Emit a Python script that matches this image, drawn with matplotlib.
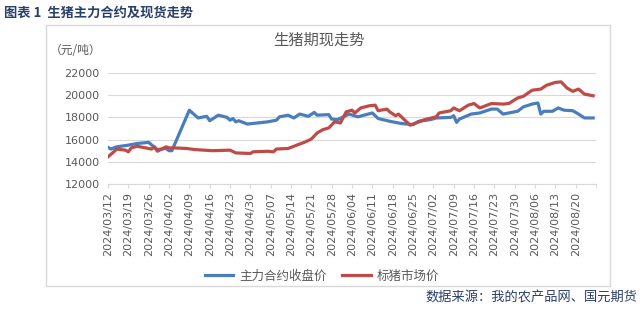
import pandas as pd
import matplotlib
matplotlib.use('Agg')
import matplotlib.pyplot as plt
import matplotlib.dates as mdates
from matplotlib.patches import Rectangle

plt.rcParams['font.family'] = ['DejaVu Sans', 'Noto Sans CJK SC']
plt.rcParams['axes.unicode_minus'] = False

# 主力合约收盘价 (元/吨)
futures_dates = [
    '2024-03-12', '2024-03-13', '2024-03-15', '2024-03-19', '2024-03-22', '2024-03-26',
    '2024-03-28', '2024-03-29', '2024-04-01', '2024-04-02', '2024-04-03', '2024-04-09',
    '2024-04-12', '2024-04-15', '2024-04-16', '2024-04-19', '2024-04-22', '2024-04-23',
    '2024-04-24', '2024-04-25', '2024-04-26', '2024-04-29', '2024-05-06', '2024-05-09',
    '2024-05-10', '2024-05-13', '2024-05-15', '2024-05-17', '2024-05-20', '2024-05-22',
    '2024-05-23', '2024-05-27', '2024-05-28', '2024-05-30', '2024-06-03', '2024-06-06',
    '2024-06-11', '2024-06-13', '2024-06-17', '2024-06-21', '2024-06-25', '2024-06-27',
    '2024-07-01', '2024-07-03', '2024-07-08', '2024-07-09', '2024-07-10', '2024-07-11',
    '2024-07-15', '2024-07-18', '2024-07-22', '2024-07-24', '2024-07-26', '2024-07-31',
    '2024-08-02', '2024-08-05', '2024-08-07', '2024-08-08', '2024-08-09', '2024-08-12',
    '2024-08-14', '2024-08-16', '2024-08-19', '2024-08-21', '2024-08-23', '2024-08-26',
]
futures_values = [
    15300, 15150, 15350, 15500, 15650, 15750,
    15300, 15100, 15200, 15000, 15000, 18650,
    17950, 18100, 17700, 18200, 18000, 17750,
    17900, 17600, 17700, 17400, 17600, 17750,
    18050, 18200, 17950, 18300, 18100, 18450,
    18200, 18250, 17850, 17800, 18300, 18050,
    18400, 17900, 17650, 17450, 17350, 17650,
    17800, 17950, 18000, 18150, 17550, 17850,
    18300, 18400, 18750, 18750, 18300, 18550,
    18950, 19200, 19300, 18300, 18550, 18550,
    18850, 18650, 18600, 18300, 17950, 17950,
]

# 标猪市场价 (元/吨)
spot_dates = [
    '2024-03-12', '2024-03-14', '2024-03-15', '2024-03-18', '2024-03-19', '2024-03-20',
    '2024-03-22', '2024-03-25', '2024-03-27', '2024-03-28', '2024-03-29', '2024-04-01',
    '2024-04-02', '2024-04-04', '2024-04-08', '2024-04-11', '2024-04-17', '2024-04-23',
    '2024-04-25', '2024-04-30', '2024-05-01', '2024-05-06', '2024-05-08', '2024-05-09',
    '2024-05-13', '2024-05-16', '2024-05-19', '2024-05-21', '2024-05-23', '2024-05-25',
    '2024-05-27', '2024-05-29', '2024-05-31', '2024-06-02', '2024-06-04', '2024-06-05',
    '2024-06-07', '2024-06-10', '2024-06-12', '2024-06-13', '2024-06-16', '2024-06-17',
    '2024-06-19', '2024-06-20', '2024-06-22', '2024-06-24', '2024-06-26', '2024-06-29',
    '2024-07-03', '2024-07-04', '2024-07-08', '2024-07-09', '2024-07-11', '2024-07-14',
    '2024-07-16', '2024-07-18', '2024-07-22', '2024-07-26', '2024-07-28', '2024-07-31',
    '2024-08-02', '2024-08-05', '2024-08-08', '2024-08-10', '2024-08-13', '2024-08-15',
    '2024-08-17', '2024-08-19', '2024-08-21', '2024-08-23', '2024-08-26',
]
spot_values = [
    14450, 14900, 15150, 15050, 14900, 15250,
    15400, 15250, 15150, 15350, 14950, 15350,
    15250, 15250, 15200, 15100, 15000, 15050,
    14800, 14750, 14900, 14950, 14900, 15150,
    15200, 15500, 15800, 16050, 16600, 16900,
    17050, 17600, 17500, 18500, 18650, 18400,
    18850, 19050, 19100, 18600, 18750, 18500,
    18150, 18300, 17800, 17300, 17500, 17800,
    18050, 18400, 18600, 18850, 18600, 19100,
    19250, 18850, 19250, 19200, 19250, 19750,
    19900, 20450, 20550, 20900, 21150, 21200,
    20650, 20350, 20550, 20100, 19950,
]

tick_dates = pd.date_range('2024-03-12', '2024-08-20', freq='7D')
y_ticks = [12000, 14000, 16000, 18000, 20000, 22000]

grey = '#595959'
line_grey = '#D9D9D9'

fig = plt.figure(figsize=(6.4, 3.09), dpi=100)
W, H = 640, 309

# 外框
fig.patches.append(Rectangle((46 / W, 1 - 286 / H), (610 - 46) / W, (286 - 25) / H,
                             transform=fig.transFigure, fill=False,
                             edgecolor=line_grey, linewidth=1.0))

ax = fig.add_axes([108 / W, 1 - 184 / H, (596 - 108) / W, (184 - 73) / H])

ax.plot(pd.to_datetime(futures_dates), futures_values, color='#4A7EBB', lw=2.3,
        label='主力合约收盘价', solid_joinstyle='round')
ax.plot(pd.to_datetime(spot_dates), spot_values, color='#BE4B48', lw=2.3,
        label='标猪市场价', solid_joinstyle='round')

ax.set_xlim(pd.Timestamp('2024-03-12'), pd.Timestamp('2024-08-27'))
ax.set_ylim(12000, 22000)
ax.set_yticks(y_ticks)
ax.set_xticks(tick_dates)
ax.set_xticks([pd.Timestamp('2024-08-27')], minor=True)
ax.xaxis.set_major_formatter(mdates.DateFormatter('%Y/%m/%d'))

ax.grid(axis='y', color=line_grey, lw=0.8)
ax.set_axisbelow(True)
for s in ['top', 'right', 'left']:
    ax.spines[s].set_visible(False)
ax.spines['bottom'].set_color(line_grey)
ax.tick_params(axis='y', length=0, labelsize=8, labelcolor=grey, pad=6)
ax.tick_params(axis='x', which='both', length=3, color=line_grey, labelsize=8,
               labelcolor=grey, rotation=90, pad=3)

fig.text(319 / W, 1 - 40 / H, '生猪期现走势', ha='center', va='center',
         fontsize=11, color=grey, family='Noto Sans CJK SC')
fig.text(50 / W, 1 - 50 / H, '（元/吨）', ha='left', va='center',
         fontsize=8.5, color=grey, family='Noto Sans CJK SC')
fig.text(4 / W, 1 - 13 / H, '图表 1  生猪主力合约及现货走势', ha='left', va='center',
         fontsize=9.5, color='#2B3F6B', weight='bold', family='Noto Sans CJK SC')
fig.text(637 / W, 1 - 298 / H, '数据来源：我的农产品网、国元期货', ha='right', va='center',
         fontsize=9.5, color='#2B3F6B', family='Noto Sans CJK SC')

leg = fig.legend(loc='center', bbox_to_anchor=(322 / W, 1 - 276 / H), ncol=2,
                 frameon=False, handlelength=2.3, columnspacing=1.2, handletextpad=0.5,
                 prop={'family': 'Noto Sans CJK SC', 'size': 9})
for t in leg.get_texts():
    t.set_color(grey)

fig.savefig('out.png', dpi=100)
